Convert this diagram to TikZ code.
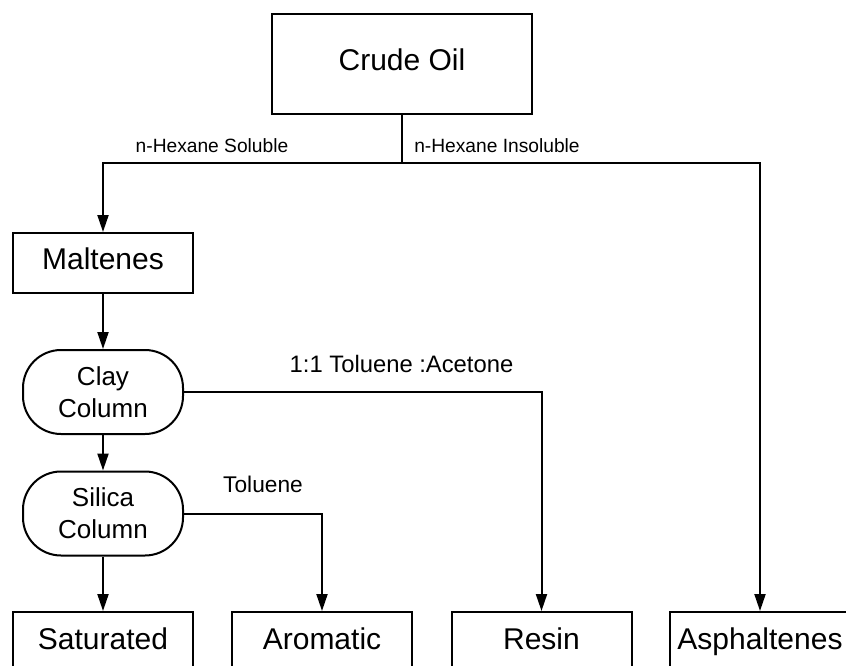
\documentclass[tikz,border=0pt]{standalone}
\usepackage{fontspec}
\setmainfont{Liberation Sans}
\usetikzlibrary{arrows.meta}
\begin{document}
\begin{tikzpicture}[x=1pt,y=-1pt,
  line width=2pt,
  flow/.style={-{Triangle[length=17pt,width=11pt]}},
  boxnode/.style={draw, rectangle, minimum width=180pt, inner xsep=0pt, inner ysep=0pt, font=\fontsize{30}{36}\selectfont},
  colnode/.style={draw, rectangle, rounded corners=38pt, minimum width=160pt, minimum height=84pt, inner sep=0pt, align=center, font=\fontsize{26}{32}\selectfont},
  lbl/.style={anchor=base, inner sep=0pt}
]
\useasboundingbox (0,0) rectangle (846,666);
\clip (0,0) rectangle (846,666);

\node[boxnode, minimum width=260pt, minimum height=100pt, text height=21.5pt, text depth=7.5pt] (crude) at (402,64) {Crude Oil};
\node[boxnode, minimum height=60pt, text height=21.5pt, text depth=9.5pt] (malt) at (103,263) {Maltenes};
\node[colnode] (clay) at (103,392) {Clay\\Column};
\node[colnode] (silica) at (103,513.5) {Silica\\Column};

\node[boxnode, anchor=north, text height=37pt, text depth=20pt] (sat) at (103,611) {Saturated};
\node[boxnode, anchor=north, text height=37pt, text depth=20pt] (arom) at (322,611) {Aromatic};
\node[boxnode, anchor=north, text height=37pt, text depth=20pt] (resin) at (541.5,611) {Resin};
\node[boxnode, anchor=north, text height=37pt, text depth=20pt] (asph) at (760,611) {Asphaltenes};

\coordinate (split) at (402,163);
\draw (crude.south) -- (split);
\draw[flow] (split) -| (malt.north);
\draw[flow] (split) -| (asph.north);
\draw[flow] (malt.south) -- (clay.north);
\draw[flow] (clay.south) -- (silica.north);
\draw[flow] (silica.south) -- (sat.north);
\draw[flow] (silica.east) -| (arom.north);
\draw[flow] (clay.east) -| (resin.north);

\node[lbl, font=\fontsize{19.2}{23}\selectfont] (l1) at (212,153) {n-Hexane Soluble};
\node[lbl, font=\fontsize{19.2}{23}\selectfont] (l2) at (497,153) {n-Hexane Insoluble};
\node[lbl, font=\fontsize{23.8}{28}\selectfont] (l3) at (401.5,372) {1:1 Toluene :Acetone};
\node[lbl, font=\fontsize{22.7}{27}\selectfont] (l4) at (263,492) {Toluene};
\end{tikzpicture}
\end{document}
